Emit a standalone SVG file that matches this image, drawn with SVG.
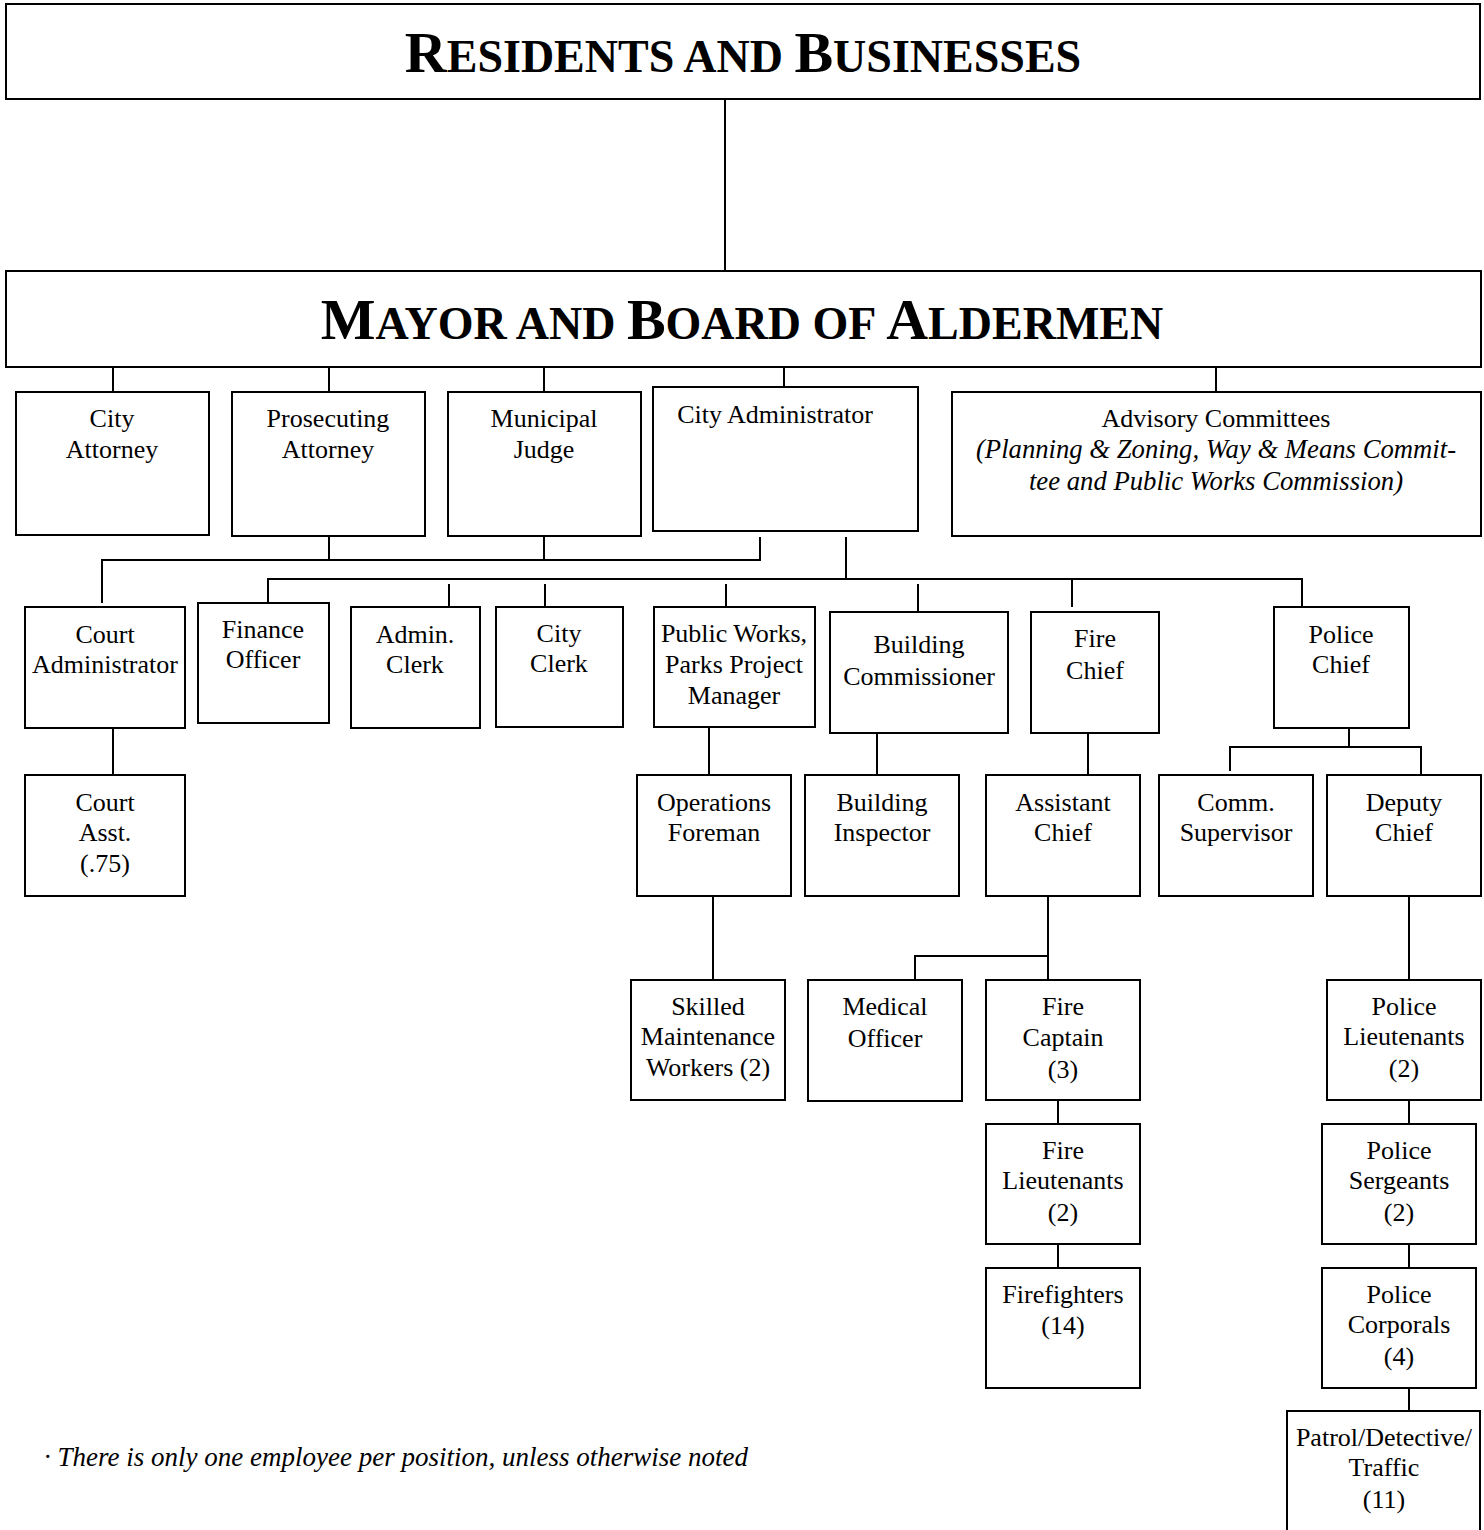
<svg xmlns="http://www.w3.org/2000/svg" width="1484" height="1530" viewBox="0 0 1484 1530">
<style>
.box{fill:#fff;stroke:#000;stroke-width:2}
.ln{fill:none;stroke:#000;stroke-width:2}
text{font-family:"Liberation Serif","Times New Roman",serif;fill:#000;text-anchor:middle;font-size:26px}
.it{font-style:italic;font-size:26.7px}
.ttl{font-weight:bold;font-size:58px}
.sc{font-size:46px}
</style>
<rect width="1484" height="1530" fill="#fff"/>
<g id="connectors">
<path class="ln" d="M725 99V271"/>
<path class="ln" d="M113 367V392M329 367V392M544 367V392M784 367V388M1216 367V392"/>
<path class="ln" d="M329 536V560M544 536V560M760 537V560H102V603"/>
<path class="ln" d="M846 537V579M268 603V579H1302V607M449 584V607M545 584V607M726 584V607M918 584V612M1072 579V607"/>
<path class="ln" d="M113 728V775M709 727V775M877 733V775M1088 733V775"/>
<path class="ln" d="M1349 728V747M1230 771V747H1421V775"/>
<path class="ln" d="M713 896V980M1048 896V980M915 980V956H1048M1409 896V980"/>
<path class="ln" d="M1058 1100V1124M1058 1244V1268M1409 1100V1124M1409 1244V1268M1409 1388V1411"/>
</g>
<g id="residents">
<rect class="box" x="6" y="4" width="1474" height="95"/>
<text class="ttl" x="743" y="72">R<tspan class="sc">ESIDENTS AND </tspan>B<tspan class="sc">USINESSES</tspan></text>
</g>
<g id="mayor">
<rect class="box" x="6" y="271" width="1475" height="96"/>
<text class="ttl" x="742" y="339">M<tspan class="sc">AYOR AND </tspan>B<tspan class="sc">OARD OF </tspan>A<tspan class="sc">LDERMEN</tspan></text>
</g>
<g id="city-attorney">
<rect class="box" x="16" y="392" width="193" height="143"/>
<text x="112" y="427">City</text><text x="112" y="458">Attorney</text>
</g>
<g id="prosecuting-attorney">
<rect class="box" x="232" y="392" width="193" height="144"/>
<text x="328" y="427">Prosecuting</text><text x="328" y="458">Attorney</text>
</g>
<g id="municipal-judge">
<rect class="box" x="448" y="392" width="193" height="144"/>
<text x="544" y="427">Municipal</text><text x="544" y="458">Judge</text>
</g>
<g id="city-administrator">
<rect class="box" x="653" y="387" width="265" height="144"/>
<text x="775" y="423">City Administrator</text>
</g>
<g id="advisory-committees">
<rect class="box" x="952" y="392" width="529" height="144"/>
<text x="1216" y="427">Advisory Committees</text>
<text class="it" x="1216" y="458">(Planning &amp; Zoning, Way &amp; Means Commit-</text>
<text class="it" x="1216" y="490">tee and Public Works Commission)</text>
</g>
<g id="court-administrator">
<rect class="box" x="25" y="607" width="160" height="121"/>
<text x="105" y="643">Court</text><text x="105" y="673">Administrator</text>
</g>
<g id="finance-officer">
<rect class="box" x="198" y="603" width="131" height="120"/>
<text x="263" y="638">Finance</text><text x="263" y="668">Officer</text>
</g>
<g id="admin-clerk">
<rect class="box" x="351" y="607" width="129" height="121"/>
<text x="415" y="643">Admin.</text><text x="415" y="673">Clerk</text>
</g>
<g id="city-clerk">
<rect class="box" x="496" y="607" width="127" height="120"/>
<text x="559" y="642">City</text><text x="559" y="672">Clerk</text>
</g>
<g id="public-works">
<rect class="box" x="654" y="607" width="161" height="120"/>
<text x="734" y="642">Public Works,</text><text x="734" y="673">Parks Project</text><text x="734" y="704">Manager</text>
</g>
<g id="building-commissioner">
<rect class="box" x="830" y="612" width="178" height="121"/>
<text x="919" y="653">Building</text><text x="919" y="685">Commissioner</text>
</g>
<g id="fire-chief">
<rect class="box" x="1031" y="612" width="128" height="121"/>
<text x="1095" y="647">Fire</text><text x="1095" y="679">Chief</text>
</g>
<g id="police-chief">
<rect class="box" x="1274" y="607" width="135" height="121"/>
<text x="1341" y="643">Police</text><text x="1341" y="673">Chief</text>
</g>
<g id="court-asst">
<rect class="box" x="25" y="775" width="160" height="121"/>
<text x="105" y="811">Court</text><text x="105" y="841">Asst.</text><text x="105" y="872">(.75)</text>
</g>
<g id="operations-foreman">
<rect class="box" x="637" y="775" width="154" height="121"/>
<text x="714" y="811">Operations</text><text x="714" y="841">Foreman</text>
</g>
<g id="building-inspector">
<rect class="box" x="805" y="775" width="154" height="121"/>
<text x="882" y="811">Building</text><text x="882" y="841">Inspector</text>
</g>
<g id="assistant-chief">
<rect class="box" x="986" y="775" width="154" height="121"/>
<text x="1063" y="811">Assistant</text><text x="1063" y="841">Chief</text>
</g>
<g id="comm-supervisor">
<rect class="box" x="1159" y="775" width="154" height="121"/>
<text x="1236" y="811">Comm.</text><text x="1236" y="841">Supervisor</text>
</g>
<g id="deputy-chief">
<rect class="box" x="1327" y="775" width="154" height="121"/>
<text x="1404" y="811">Deputy</text><text x="1404" y="841">Chief</text>
</g>
<g id="skilled-maintenance">
<rect class="box" x="631" y="980" width="154" height="120"/>
<text x="708" y="1015">Skilled</text><text x="708" y="1045">Maintenance</text><text x="708" y="1076">Workers (2)</text>
</g>
<g id="medical-officer">
<rect class="box" x="808" y="980" width="154" height="121"/>
<text x="885" y="1015">Medical</text><text x="885" y="1047">Officer</text>
</g>
<g id="fire-captain">
<rect class="box" x="986" y="980" width="154" height="120"/>
<text x="1063" y="1015">Fire</text><text x="1063" y="1046">Captain</text><text x="1063" y="1078">(3)</text>
</g>
<g id="police-lieutenants">
<rect class="box" x="1327" y="980" width="154" height="120"/>
<text x="1404" y="1015">Police</text><text x="1404" y="1045">Lieutenants</text><text x="1404" y="1077">(2)</text>
</g>
<g id="fire-lieutenants">
<rect class="box" x="986" y="1124" width="154" height="120"/>
<text x="1063" y="1159">Fire</text><text x="1063" y="1189">Lieutenants</text><text x="1063" y="1221">(2)</text>
</g>
<g id="firefighters">
<rect class="box" x="986" y="1268" width="154" height="120"/>
<text x="1063" y="1303">Firefighters</text><text x="1063" y="1334">(14)</text>
</g>
<g id="police-sergeants">
<rect class="box" x="1322" y="1124" width="154" height="120"/>
<text x="1399" y="1159">Police</text><text x="1399" y="1189">Sergeants</text><text x="1399" y="1221">(2)</text>
</g>
<g id="police-corporals">
<rect class="box" x="1322" y="1268" width="154" height="120"/>
<text x="1399" y="1303">Police</text><text x="1399" y="1333">Corporals</text><text x="1399" y="1365">(4)</text>
</g>
<g id="patrol">
<rect class="box" x="1287" y="1411" width="193" height="140"/>
<text x="1384" y="1446">Patrol/Detective/</text><text x="1384" y="1476">Traffic</text><text x="1384" y="1508">(11)</text>
</g>
<g id="footnote">
<text class="it" x="44" y="1466" style="text-anchor:start;font-size:27px">· There is only one employee per position, unless otherwise noted</text>
</g>
</svg>
